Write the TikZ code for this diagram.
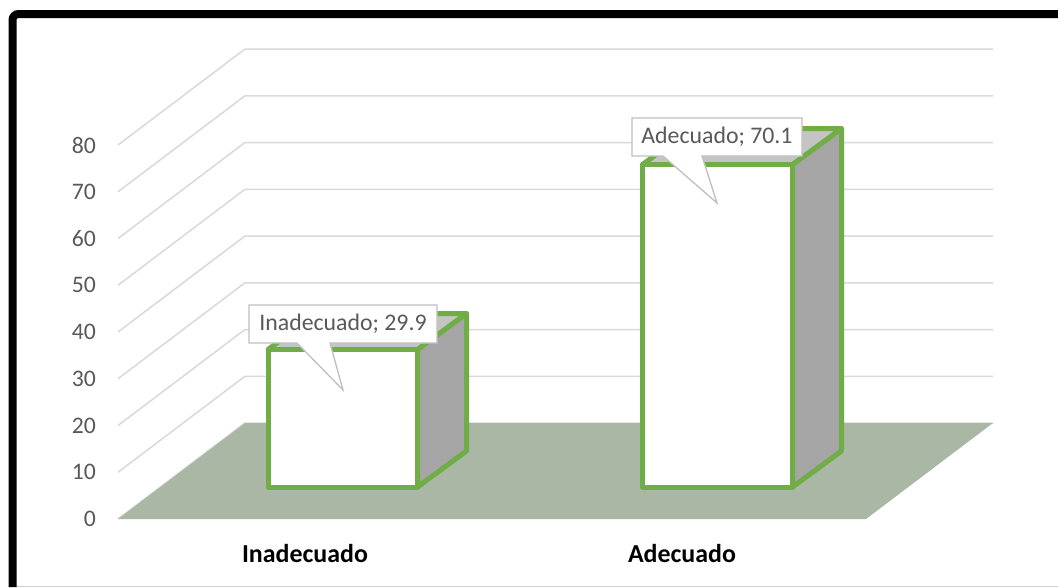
\documentclass[tikz,border=0pt]{standalone}
\usepackage{fontspec}
\setmainfont{Carlito}
\definecolor{gridc}{HTML}{D9D9D9}
\definecolor{floorc}{HTML}{ABB7A5}
\definecolor{barg}{HTML}{70AD47}
\definecolor{sideg}{HTML}{A5A5A5}
\definecolor{topg}{HTML}{C4C4C4}
\definecolor{axt}{HTML}{595959}
\definecolor{callb}{HTML}{BFBFBF}
\definecolor{framebot}{HTML}{D0D0D0}
\begin{document}
\begin{tikzpicture}[x=1pt,y=-1pt,
  gridline/.style={draw=gridc,line width=1.5pt},
  barface/.style={draw=barg,line width=5pt,line join=round},
  callout/.style={draw=callb,fill=white,line width=1.3pt,line join=miter},
  calltext/.style={text=axt,font=\fontsize{23.8}{28}\selectfont,inner sep=0pt},
  axlabel/.style={text=axt,font=\fontsize{23.7}{28}\selectfont,inner sep=0pt,anchor=east},
  catlabel/.style={text=black,font=\fontsize{25.9}{30}\selectfont\bfseries,inner sep=0pt}]
\useasboundingbox (0,0) rectangle (1058,587);
\fill[white] (0,0) rectangle (1058,587);
% gridlines and axis labels
\foreach \k in {0,...,8} {
  \pgfmathsetmacro\yf{519-46.75*\k}
  \pgfmathtruncatemacro\v{10*\k}
  \draw[gridline] (118,\yf) -- ++(127,-96) -- (993,{\yf-96});
  \node[axlabel] (y\k) at (96,\yf) {\v};
}
% floor
\fill[floorc] (118,519) -- (866,519) -- (993,423) -- (245,423) -- cycle;
% bar 1
\filldraw[barface,fill=sideg] (417.5,487) -- (466.5,451) -- (466.5,313.5) -- (417.5,349.5) -- cycle;
\filldraw[barface,fill=topg] (268,349.5) -- (317,313.5) -- (466.5,313.5) -- (417.5,349.5) -- cycle;
\filldraw[barface,fill=white] (268,349.5) rectangle (417.5,487);
% bar 2
\filldraw[barface,fill=sideg] (792.5,487) -- (841.5,451) -- (841.5,128.5) -- (792.5,164.5) -- cycle;
\filldraw[barface,fill=topg] (642.5,164.5) -- (691.5,128.5) -- (841.5,128.5) -- (792.5,164.5) -- cycle;
\filldraw[barface,fill=white] (642.5,164.5) rectangle (792.5,487);
% callouts
\filldraw[callout] (249,305) -- (437,305) -- (437,343) -- (330,343) -- (343,390) -- (297,343) -- (249,343) -- cycle;
\node[calltext] (c1) at (343,324) {Inadecuado; 29.9};
\filldraw[callout] (632,118) -- (802,118) -- (802,156) -- (702,156) -- (717,203) -- (663,156) -- (632,156) -- cycle;
\node[calltext] (c2) at (717,137) {Adecuado; 70.1};
% category labels
\node[catlabel] (cat1) at (305,553) {Inadecuado};
\node[catlabel] (cat2) at (682,553) {Adecuado};
% frame
\draw[framebot,line width=1.5pt] (16,586.5) -- (1058,586.5);
\draw[black,line width=8pt,rounded corners=6pt] (12.5,587) -- (12.5,14) -- (1058,14);
\end{tikzpicture}
\end{document}
